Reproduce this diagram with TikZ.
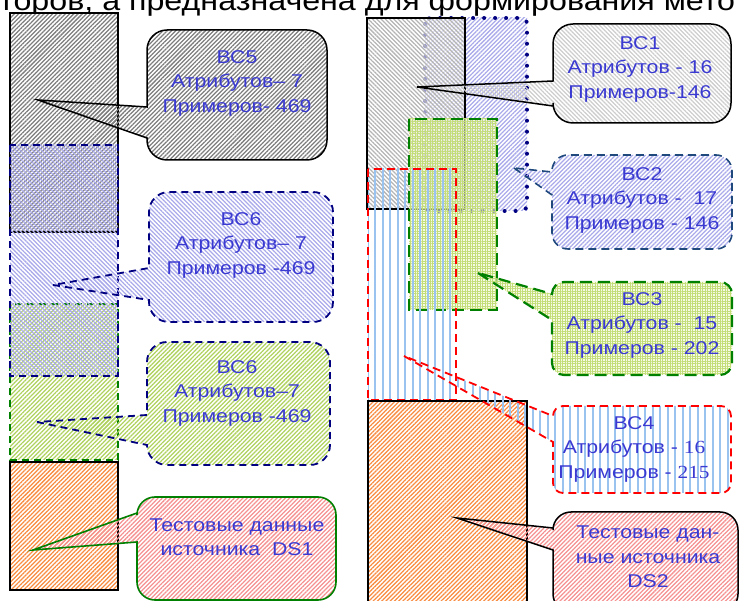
\documentclass[tikz,border=0pt]{standalone}
\usepackage{fontspec}
\setmainfont{Liberation Sans}[FakeStretch=1.15]
\newfontfamily\numfont{Liberation Serif}[FakeStretch=1.15]
\usetikzlibrary{patterns.meta}

\definecolor{txtblue}{RGB}{58,58,210}
\definecolor{navy}{RGB}{0,0,128}
\definecolor{slate}{RGB}{31,73,125}
\definecolor{dgreen}{RGB}{0,128,0}
\definecolor{hgray}{RGB}{125,125,125}
\definecolor{hlgray}{RGB}{180,180,180}
\definecolor{hpale}{RGB}{205,205,205}
\definecolor{horange}{RGB}{248,140,65}
\definecolor{hgreen}{RGB}{175,210,95}
\definecolor{hblue}{RGB}{170,170,235}
\definecolor{hpink}{RGB}{245,145,145}
\definecolor{hgrid}{RGB}{195,222,120}
\definecolor{gridbg}{RGB}{238,246,210}
\definecolor{hsky}{RGB}{155,195,240}

% speech bubble: #1 style, #2 left x, #3 top y, #4 right x, #5 bottom y,
% #6 upper attach y, #7 lower attach y, #8 tip coordinate, #9 corner radius
\newcommand\bubble[9]{%
  \draw[#1] (#8) -- (#2,#7) -- (#2,{#5-#9})
    .. controls (#2,{#5-0.448*#9}) and ({#2+0.448*#9},#5) .. ({#2+#9},#5)
    -- ({#4-#9},#5)
    .. controls ({#4-0.448*#9},#5) and (#4,{#5-0.448*#9}) .. (#4,{#5-#9})
    -- (#4,{#3+#9})
    .. controls (#4,{#3+0.448*#9}) and ({#4-0.448*#9},#3) .. ({#4-#9},#3)
    -- ({#2+#9},#3)
    .. controls ({#2+0.448*#9},#3) and (#2,{#3+0.448*#9}) .. (#2,{#3+#9})
    -- (#2,#6) -- cycle;}

\begin{document}
\begin{tikzpicture}[x=1pt,y=-1pt,
  diag/.style 2 args={pattern={Lines[angle=#1,distance=3pt,line width=1.25pt]},pattern color=#2},
  white bg/.style={preaction={fill=white}},
  solidline/.style={draw=black,line width=1.5pt},
  navydash/.style={draw=navy,line width=1.8pt,dash pattern=on 7pt off 5pt},
  greendash/.style={draw=dgreen,line width=1.6pt,dash pattern=on 7pt off 5pt},
  greenlong/.style={draw=dgreen,line width=2.2pt,dash pattern=on 12pt off 6pt},
  reddash/.style={draw=red,line width=1.8pt,dash pattern=on 8pt off 5pt},
  slatedash/.style={draw=slate,line width=1.6pt,dash pattern=on 8pt off 5pt},
  navydots/.style={draw=navy,line width=4pt,line cap=round,dash pattern=on 0pt off 11pt},
  gridfill/.style={pattern={Hatch[angle=0,distance=2.5pt,line width=0.5pt]},pattern color=hgrid},
  skyfill/.style={pattern={Lines[angle=90,distance=7.5pt,line width=2pt]},pattern color=hsky},
  lbl/.style={text=txtblue,align=center,font=\fontsize{18.5}{24.5}\selectfont,inner sep=0pt}
]
\useasboundingbox (0,0) rectangle (740,601);
\clip (0,0) rectangle (740,601);

% running text line above the figure
\node[anchor=base west,inner sep=0pt,font=\fontsize{28}{30}\selectfont] (head) at (-1,11)
  {торов, а предназначена для формирования мето};

% ---------- left source: DS1 ----------
\path[white bg,diag={45}{hgray}] (10,13) rectangle (118,232);
\draw[solidline] (10,13) rectangle (118,232);
\draw[greendash,diag={45}{hgreen}] (10,304) rectangle (118,460);
\draw[navydash,diag={135}{hblue}] (10,145) rectangle (118,376);
\draw[solidline,white bg,diag={45}{horange}] (10,462) rectangle (118,590);

% ---------- right source: DS2 ----------
\path[diag={45}{hblue}] (425,18) rectangle (527,211);
\draw[navydots,rounded corners=6pt] (425,18) rectangle (527,211);
\draw[solidline,preaction={fill=white,fill opacity=0.6},diag={135}{hlgray}] (367,18) rectangle (465,209);
\draw[greenlong,preaction={fill=gridbg,fill opacity=0.6},gridfill] (409,119) rectangle (497,310);
\draw[reddash,skyfill] (368,169) rectangle (456,400);
\draw[solidline,white bg,diag={45}{horange}] (368,401) rectangle (527,612);

% pointer tips
\coordinate (t5) at (38,100);
\coordinate (t6a) at (53,285);
\coordinate (t6b) at (37,422);
\coordinate (td1) at (33,550);
\coordinate (t1) at (417,87);
\coordinate (t2) at (514,168);
\coordinate (t3) at (478,273);
\coordinate (t4) at (404,356);
\coordinate (td2) at (457,518);

% ---------- callouts, left ----------
\bubble{solidline,diag={45}{hgray}}{147}{30}{327}{160}{107}{138}{t5}{20}
\bubble{navydash,diag={135}{hblue}}{149}{192}{333}{322}{268}{300}{t6a}{20}
\bubble{navydash,diag={45}{hgreen}}{147}{342}{330}{465}{415}{445}{t6b}{20}
\bubble{draw=dgreen,line width=1.6pt,diag={45}{hpink}}{137}{497}{336}{600}{513}{542}{td1}{18}

% ---------- callouts, right ----------
\bubble{solidline,diag={135}{hpale}}{553}{24}{731}{123}{81}{106}{t1}{20}
\bubble{slatedash,diag={45}{hblue}}{552}{155}{732}{249}{172}{195}{t2}{16}
\bubble{greenlong,preaction={fill=gridbg,fill opacity=0.6},gridfill}{552}{282}{732}{375}{294}{320}{t3}{12}
\bubble{reddash,skyfill}{553}{406}{731}{493}{416}{442}{t4}{10}
\bubble{solidline,diag={45}{hpink}}{553}{512}{738}{612}{528}{550}{td2}{18}

% ---------- labels ----------
\node[lbl] (l5) at (237,83) {ВС5\\Атрибутов– 7\\Примеров- 469};
\node[lbl] (l6a) at (241,245) {ВС6\\Атрибутов– 7\\Примеров -469};
\node[lbl] (l6b) at (237,393) {ВС6\\Атрибутов–7\\Примеров -469};
\node[lbl] (ld1) at (237,537) {Тестовые данные\\источника\ \ DS1};
\node[lbl] (l1) at (640,69) {ВС1\\Атрибутов - 16\\Примеров-146};
\node[lbl] (l2) at (642,200) {ВС2\\Атрибутов -\ \ 17\\Примеров - 146};
\node[lbl] (l3) at (642,325) {ВС3\\Атрибутов -\ \ 15\\Примеров - 202};
\node[lbl] (l4) at (634,449) {ВС4\\Атрибутов -\ {\numfont 16}\\Примеров - {\numfont 215}};
\node[lbl] (ld2) at (648,557) {Тестовые дан-\\ные источника\\DS2};
\end{tikzpicture}
\end{document}
